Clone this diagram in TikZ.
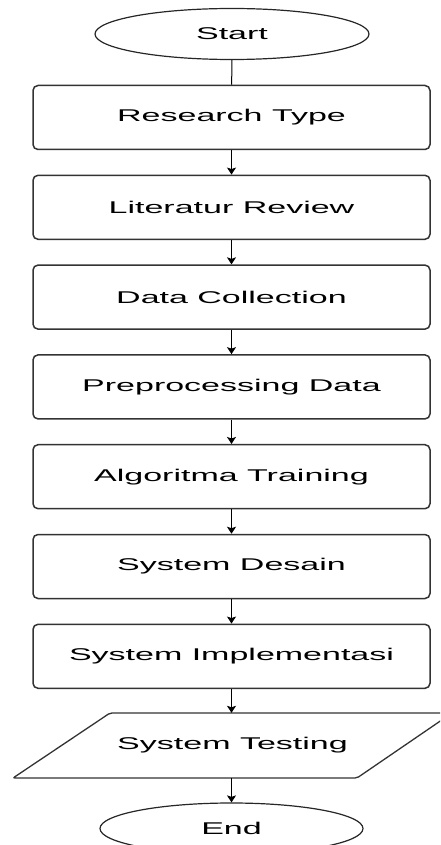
\documentclass[tikz,border=0pt]{standalone}
\usepackage{fontspec}
\newfontfamily\labfont[FakeStretch=2.0]{Liberation Sans}
\usetikzlibrary{arrows.meta,shapes.geometric,calc}
\begin{document}
\begin{tikzpicture}[x=1pt,y=-1pt,
  every node/.style={font=\labfont\fontsize{17}{20}\selectfont},
  term/.style={ellipse,draw=black!85,line width=1.2pt,inner sep=0pt},
  proc/.style={rectangle,rounded corners=5pt,draw=black!80,line width=1.5pt,minimum width=397pt,minimum height=64pt,inner sep=0pt},
  shapeline/.style={draw=black!80,line width=1.3pt,rounded corners=2pt},
  link/.style={line width=1pt},
  arr/.style={link,-{Stealth[length=7pt,width=9pt,inset=1.5pt]}}]
\useasboundingbox (0,0) rectangle (440,845);
\clip (0,0) rectangle (440,845);
\node[term,minimum width=274pt,minimum height=51pt] (start) at (232,34) {Start};
\node[proc] (rt) at (231.5,117.5) {Research Type};
\node[proc] (lr) at (231.5,207.3) {Literatur Review};
\node[proc] (dc) at (231.5,297.1) {Data Collection};
\node[proc] (pd) at (231.5,386.9) {Preprocessing Data};
\node[proc] (at) at (231.5,476.7) {Algoritma Training};
\node[proc] (sd) at (231.5,566.5) {System Desain};
\node[proc] (si) at (231.5,656.3) {System Implementasi};
\node[minimum width=200pt,minimum height=65pt,inner sep=0pt] (st) at (232.5,745.5) {System Testing};
\draw[shapeline] ($(st)+(-219.5,32.5)$) -- ($(st)+(124.5,32.5)$) -- ($(st)+(219.5,-32.5)$) -- ($(st)+(-122.5,-32.5)$) -- cycle;
\node[term,minimum width=263pt,minimum height=51pt] (end) at (231.5,828.5) {End};
\draw[link] (start) -- (rt);
\draw[arr] (rt) -- (lr);
\draw[arr] (lr) -- (dc);
\draw[arr] (dc) -- (pd);
\draw[arr] (pd) -- (at);
\draw[arr] (at) -- (sd);
\draw[arr] (sd) -- (si);
\draw[arr] (si.south) -- (si.south |- st.north);
\draw[arr] (st.south -| end.north) -- (end);
\end{tikzpicture}
\end{document}
